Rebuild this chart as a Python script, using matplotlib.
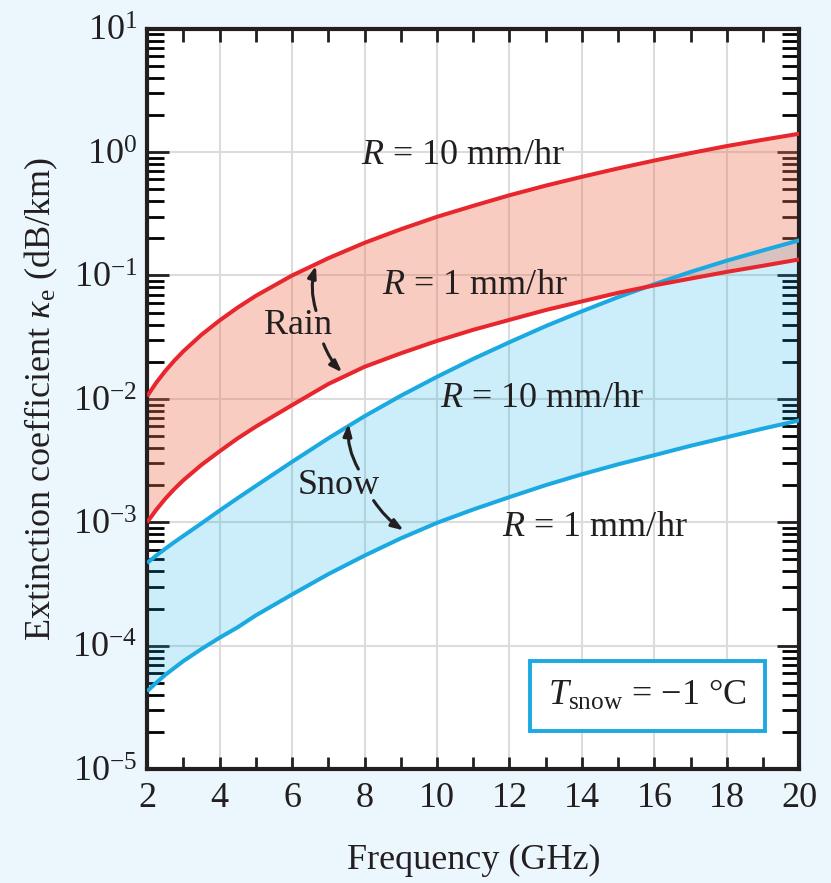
import numpy as np
import matplotlib
matplotlib.use('Agg')
import matplotlib.pyplot as plt
from matplotlib.ticker import LogLocator, MultipleLocator, NullFormatter

plt.rcParams['font.family'] = ['Liberation Serif', 'DejaVu Serif']
plt.rcParams['mathtext.fontset'] = 'custom'
plt.rcParams['mathtext.rm'] = 'Liberation Serif'
plt.rcParams['mathtext.it'] = 'Liberation Serif:italic'

# frequency (GHz) and extinction coefficient (dB/km)
freq = [2, 2.25, 2.5, 2.75, 3, 3.5, 4, 4.5, 5, 6, 7, 8, 9, 10,
        11, 12, 13, 14, 15, 16, 17, 18, 19, 20]
rain_10 = [0.0105, 0.0135, 0.0168, 0.0204, 0.0243, 0.0331, 0.0432, 0.055, 0.0684, 0.100,
           0.138, 0.184, 0.237, 0.299, 0.367, 0.447, 0.535, 0.631, 0.738, 0.855,
           0.982, 1.12, 1.26, 1.41]
rain_1 = [0.00100, 0.00126, 0.00155, 0.00186, 0.00219, 0.00292, 0.00376, 0.00479, 0.00596, 0.0089,
          0.0132, 0.0182, 0.0234, 0.0295, 0.0363, 0.0437, 0.0525, 0.0617, 0.0724, 0.0832,
          0.0944, 0.107, 0.120, 0.135]
snow_10 = [4.68e-4, 5.37e-4, 6.1e-4, 6.9e-4, 7.76e-4, 9.8e-4, 1.245e-3, 1.57e-3, 1.97e-3, 3.09e-3,
           4.79e-3, 7.24e-3, 0.0106, 0.0151, 0.0211, 0.0288, 0.0389, 0.0513, 0.0668, 0.0851,
           0.107, 0.132, 0.160, 0.193]
snow_1 = [4.27e-5, 5.0e-5, 5.8e-5, 6.6e-5, 7.5e-5, 9.4e-5, 1.16e-4, 1.41e-4, 1.76e-4, 2.6e-4,
          3.8e-4, 5.37e-4, 7.41e-4, 9.9e-4, 1.27e-3, 1.6e-3, 2.0e-3, 2.45e-3, 2.95e-3, 3.5e-3,
          4.17e-3, 4.9e-3, 5.75e-3, 6.7e-3]

red = '#e8262d'
blue = '#1ba9e1'
ink = '#231f20'
bg = '#ecf6fd'
fs = 26

fig = plt.figure(figsize=(8.31, 8.83), dpi=100, facecolor=bg)
ax = fig.add_axes([0.177, 0.129, 0.785, 0.8385])
ax.set_facecolor('white')
ax.set_yscale('log')
ax.set_xlim(2, 20)
ax.set_ylim(1e-5, 1e1)

# bands
ax.fill_between(freq, snow_1, snow_10, color='#00aae6', alpha=0.2, lw=0, zorder=1)
ax.fill_between(freq, rain_1, rain_10, color='#f06e50', alpha=0.35, lw=0, zorder=2)
for ys, c, z in [(rain_10, red, 4), (rain_1, red, 4), (snow_10, blue, 3), (snow_1, blue, 3)]:
    ax.plot(freq, ys, color=c, lw=2.9, zorder=z, solid_joinstyle='round', solid_capstyle='butt')

# labels on curves
ax.text(10.72, 0.94, r'$R$ = 10 mm/hr', ha='center', va='center', fontsize=fs, color=ink)
ax.text(11.05, 0.083, r'$R$ = 1 mm/hr', ha='center', va='center', fontsize=fs, color=ink)
ax.text(12.88, 0.0100, r'$R$ = 10 mm/hr', ha='center', va='center', fontsize=fs, color=ink)
ax.text(14.35, 0.00091, r'$R$ = 1 mm/hr', ha='center', va='center', fontsize=fs, color=ink)
ax.text(6.16, 0.039, 'Rain', ha='center', va='center', fontsize=fs, color=ink)
ax.text(7.28, 0.002, 'Snow', ha='center', va='center', fontsize=fs, color=ink)

arrow = dict(arrowstyle='-|>,head_length=0.7,head_width=0.25', lw=2.2, color=ink,
             shrinkA=0, shrinkB=0)
ax.annotate('', xy=(6.66, 0.12), xytext=(6.66, 0.052),
            arrowprops=dict(arrow, connectionstyle='arc3,rad=-0.15'))
ax.annotate('', xy=(7.38, 0.0164), xytext=(6.87, 0.0279),
            arrowprops=dict(arrow, connectionstyle='arc3,rad=0.1'))
ax.annotate('', xy=(7.56, 0.0063), xytext=(7.83, 0.0027),
            arrowprops=dict(arrow, connectionstyle='arc3,rad=-0.15'))
ax.annotate('', xy=(9.08, 0.00086), xytext=(8.25, 0.0015),
            arrowprops=dict(arrow, connectionstyle='arc3,rad=0.1'))

ax.text(15.81, 3.9e-5, r'$T_{\rm snow}$ = $-$1 °C', ha='center', va='center', fontsize=fs,
        color=ink, zorder=6,
        bbox=dict(boxstyle='square,pad=0.5', fc='white', ec=blue, lw=2.8))

# axes styling
ax.set_axisbelow(True)
ax.grid(True, which='major', color='#dcdcdc', lw=1.5)
ax.xaxis.set_major_locator(MultipleLocator(2))
ax.xaxis.set_minor_locator(MultipleLocator(1))
ax.yaxis.set_major_locator(LogLocator(base=10, numticks=20))
ax.yaxis.set_minor_locator(LogLocator(base=10, subs=np.arange(2, 10), numticks=20))
ax.yaxis.set_minor_formatter(NullFormatter())
ax.tick_params(axis='x', which='both', direction='in', top=True, length=9, width=2,
               labelsize=fs, pad=9, colors=ink)
ax.tick_params(axis='y', which='major', direction='in', right=True, length=16, width=2,
               labelsize=fs, pad=7, colors=ink)
ax.tick_params(axis='y', which='minor', direction='in', right=True, length=12, width=2)
for s in ax.spines.values():
    s.set_linewidth(3)
    s.set_color(ink)

ax.set_xlabel('Frequency (GHz)', fontsize=fs, color=ink, labelpad=21)
ax.set_ylabel(r'Extinction coefficient $\kappa_{\rm e}$ (dB/km)', fontsize=fs,
              color=ink, labelpad=9)

fig.savefig('out.png', dpi=100, facecolor=bg)
